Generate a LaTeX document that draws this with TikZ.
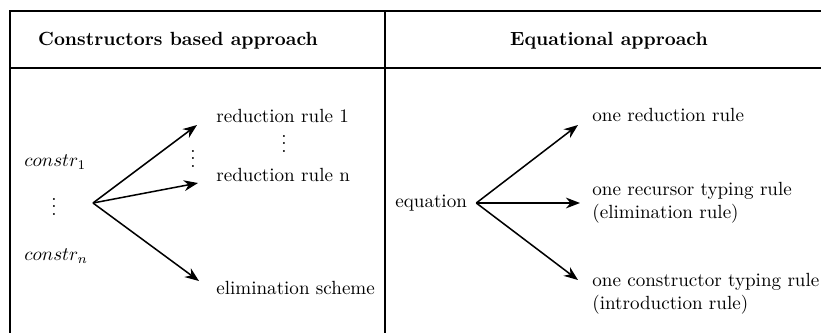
\documentclass[tikz,border=0pt]{standalone}
\usepackage{amsmath,amssymb}
\usetikzlibrary{arrows.meta,calc}

\begin{document}
\begin{tikzpicture}[x=0.5245pt,y=-0.5245pt,
frame/.style={line width=1pt,draw=black},
head/.style={font=\bfseries,inner sep=0pt},
lbl/.style={anchor=west,inner sep=0pt,align=left},
dots/.style={inner sep=0pt},
arr/.style={-{Stealth[length=2.6mm,width=2mm]},line width=0.8pt}]
\useasboundingbox (0,0) rectangle (821,333);
% table lines
\draw[frame] (821,11) -- (10,11) -- (10,333);
\draw[frame] (10,68) -- (821,68);
\draw[frame] (385,11) -- (385,333);
\node[head] (hcons) at (178,41) {Constructors based approach};
\node[head] (hequ) at (609,41) {Equational approach};
% constructors column
\node[lbl] (c1) at (24,162) {$constr_1$};
\node[dots] (cdots) at (54,201) {$\vdots$};
\node[lbl] (cn) at (24,256) {$constr_n$};
\coordinate (src) at (93,203);
\node[lbl] (r1) at (216,116) {reduction rule 1};
\node[dots] (rdots) at (284,138) {$\vdots$};
\node[dots] (adots) at (193,153) {$\vdots$};
\node[lbl] (rn) at (216,175) {reduction rule n};
\node[lbl] (elim) at (216,288) {elimination scheme};
\draw[arr] (src) -- ([shift={(-19,9)}]r1.west);
\draw[arr] (src) -- ([shift={(-18,8)}]rn.west);
\draw[arr] (src) -- ([shift={(-17,-7)}]elim.west);
% equational column
\node[lbl] (eq) at (395,203) {equation};
\coordinate (eqsrc) at ([shift={(9,0)}]eq.east);
\node[lbl] (one) at (592,115) {one reduction rule};
\node[lbl] (rec) at (592,203) {one recursor typing rule\\(elimination rule)};
\node[lbl] (ctor) at (592,294) {one constructor typing rule\\(introduction rule)};
\draw[arr] (eqsrc) -- ([shift={(-14,10)}]one.west);
\draw[arr] (eqsrc) -- ([shift={(-12,0)}]rec.west);
\draw[arr] (eqsrc) -- ([shift={(-14,-14)}]ctor.west);
\end{tikzpicture}
\end{document}
